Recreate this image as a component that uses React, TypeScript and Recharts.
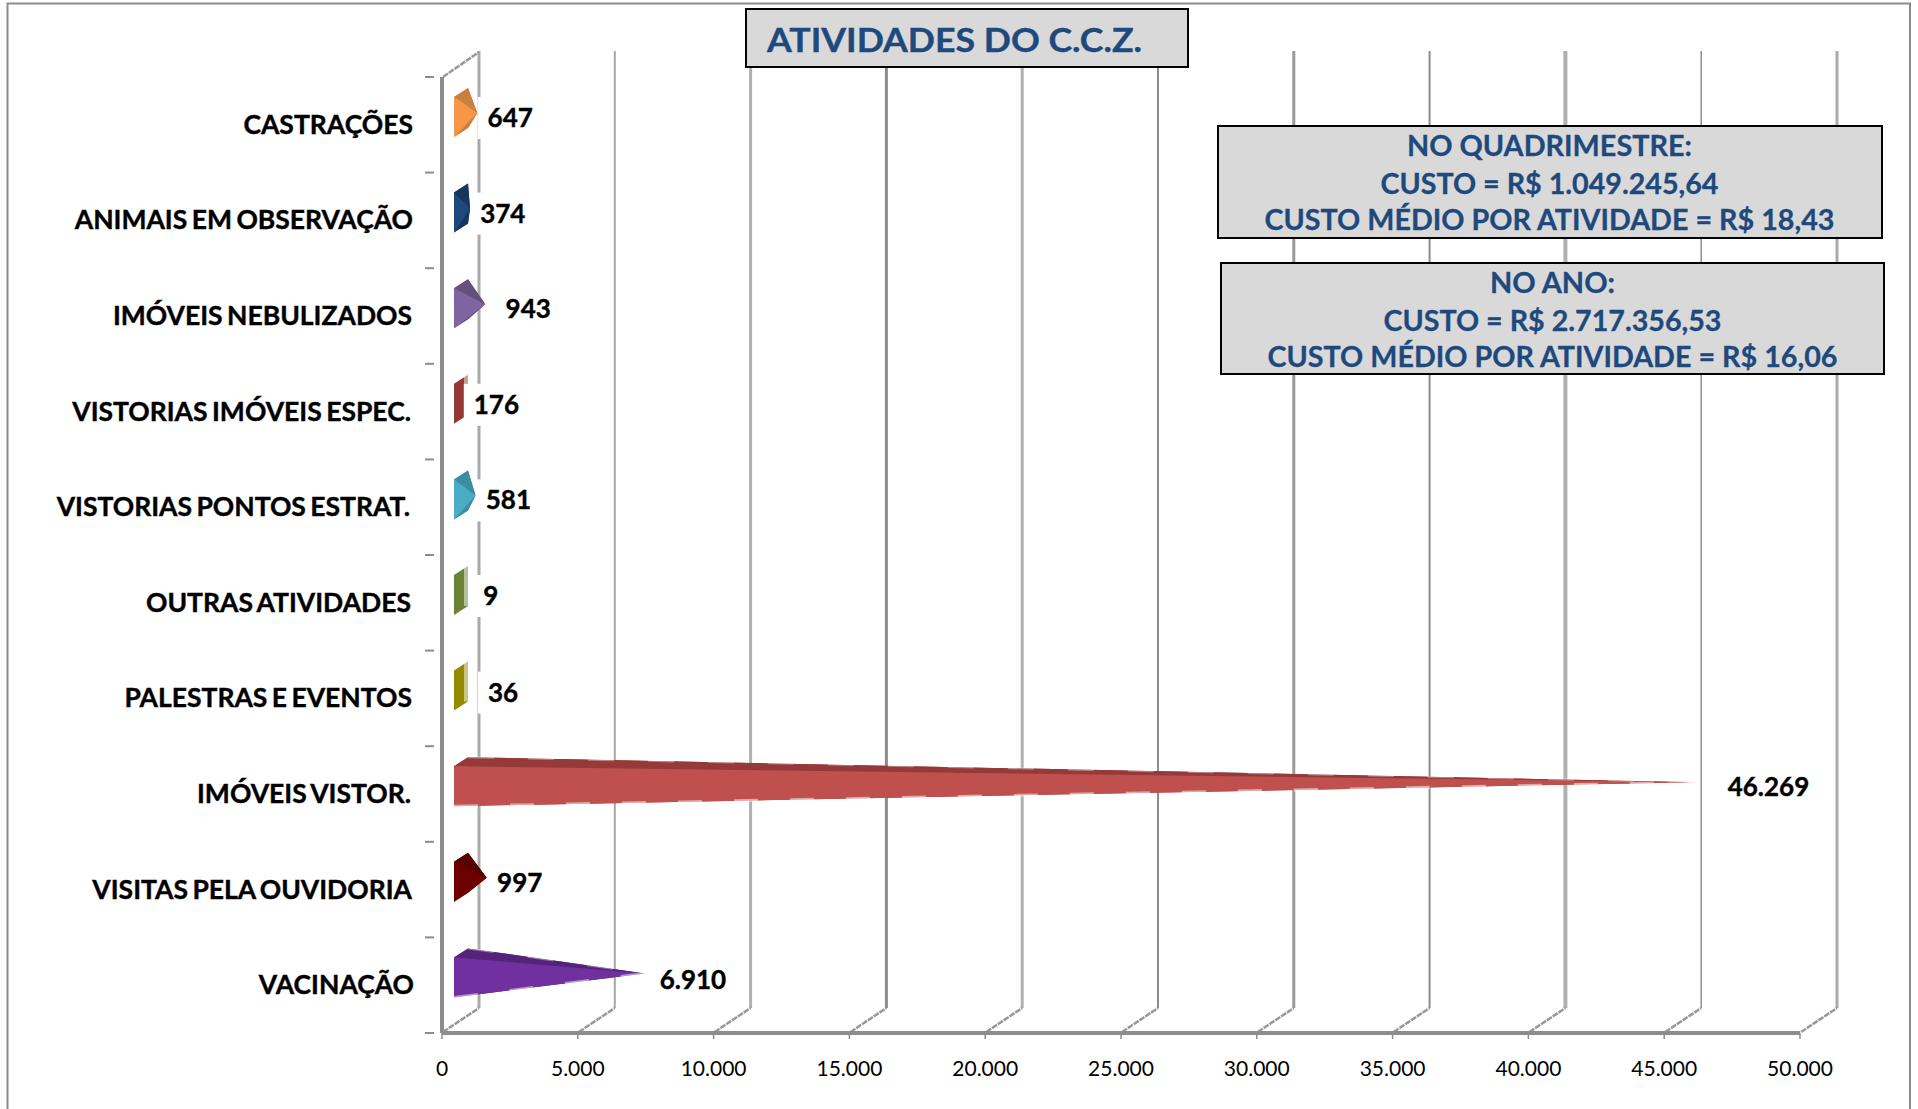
import { BarChart, Bar, XAxis, YAxis, CartesianGrid, LabelList } from "recharts"

const categories = [
  "CASTRAÇÕES",
  "ANIMAIS EM OBSERVAÇÃO",
  "IMÓVEIS NEBULIZADOS",
  "VISTORIAS IMÓVEIS ESPEC.",
  "VISTORIAS PONTOS ESTRAT.",
  "OUTRAS ATIVIDADES",
  "PALESTRAS E EVENTOS",
  "IMÓVEIS VISTOR.",
  "VISITAS PELA OUVIDORIA",
  "VACINAÇÃO",
]
const values = [647, 374, 943, 176, 581, 9, 36, 46269, 997, 6910]
const valueTicks = [0, 5000, 10000, 15000, 20000, 25000, 30000, 35000, 40000, 45000, 50000]

const mainColors = ["#f79646", "#1f497d", "#8064a2", "#953735", "#4bacc6", "#6b8136", "#948a00", "#c0504d", "#6f0000", "#7030a0"]
const darkColors = ["#c9803f", "#17365d", "#64507f", "#7a2c2b", "#3c8ca3", "#566a2c", "#7d7500", "#953a38", "#560000", "#55247a"]
const labelNudge = [0, 0, 10, -1, 0, 13, 17, 1, 0, 2]
const labelLift = [8, 8, 8, 8, 8, 8, 7, 8, 8, 6]
const edgeNudge = [0, 0, -1, -2, -3, -2, -1, -2, -1, 1]
const gridWidths = [3, 2, 3, 3, 3, 2, 3, 2, 4, 1.5, 3]
const gridColors = ["#aaaaaa", "#a6a6a6", "#b0b0b0", "#8c8c8c", "#b0b0b0", "#8c8c8c", "#999999", "#8c8c8c", "#b0b0b0", "#8c8c8c", "#aaaaaa"]

const data = categories.map((name, i) => ({ name, value: values[i] }))

const FONT = "Lato, sans-serif"
const AXIS_GRAY = "#8c8c8c"
const PLOT_TOP = 77
const PLOT_BOTTOM = 1033
const BAND = (PLOT_BOTTOM - PLOT_TOP) / categories.length
const DEPTH_X = 37
const DEPTH_Y = 25

const fmt = (v: number) => String(v).replace(/\B(?=(\d{3})+$)/g, ".")

// pyramid drawn from the rectangle the bar scale hands over
function Pyramid(props: any) {
  const { x, y, width, height, index } = props
  const c = y + height / 2
  const main = mainColors[index]
  const dark = darkColors[index]
  const bx = x + 12
  const ft = [bx, c - 28]
  const fb = [bx, c + 12]
  const bt = [bx + 14, c - 37]
  const bb = [bx + 14, c + 3]
  const apex = [bx + 6 + width * 0.985, c - 12]
  const pts = (...p: number[][]) => p.map((a) => a.join(",")).join(" ")
  const flat = apex[0] < bt[0]
  return (
    <g>
      <polygon points={pts(ft, bt, bb, fb)} fill={main} />
      {flat && <line x1={bt[0] - 2} y1={bt[1]} x2={bb[0] - 2} y2={bb[1]} stroke="#fff" strokeOpacity={0.5} strokeWidth={4} />}
      {!flat && <polygon points={pts(bt, apex, bb)} fill={dark} />}
      {!flat && <polygon points={pts(fb, bb, apex)} fill={dark} />}
      {!flat && <polygon points={pts(ft, bt, apex)} fill={dark} />}
      {!flat && <polygon points={pts(ft, fb, apex)} fill={main} />}
      {width > 100 && <line x1={fb[0]} y1={fb[1]} x2={apex[0]} y2={apex[1]} stroke="#fff" strokeOpacity={0.5} strokeWidth={3} strokeDasharray="24 32" />}
      {width > 100 && <line x1={bt[0]} y1={bt[1]} x2={apex[0]} y2={apex[1]} stroke="#fff" strokeOpacity={0.35} strokeWidth={2} strokeDasharray="26 34" />}
    </g>
  )
}

function ValueLabel(props: any) {
  const { x, y, width, height, value, index } = props
  const c = y + height / 2 - labelLift[index]
  const lx = x + width + 28 + labelNudge[index]
  const w = fmt(value).length * 14.6
  return (
    <g>
      <rect x={lx - 10} y={c - 20} width={w + 20} height={42} fill="#fff" />
      <text x={lx} y={c} dominantBaseline="central" fontFamily={FONT} fontWeight={700} fontSize={26} fill="#000" stroke="#000" strokeWidth={0.4}>
        {fmt(value)}
      </text>
    </g>
  )
}

function CategoryTick(props: any) {
  const { x, y, payload, index } = props
  const top = y - BAND / 2
  return (
    <g>
      <line x1={x - 9} y1={top} x2={x} y2={top} stroke={AXIS_GRAY} strokeWidth={2} />
      {index === categories.length - 1 && <line x1={x - 9} y1={y + BAND / 2} x2={x} y2={y + BAND / 2} stroke={AXIS_GRAY} strokeWidth={2} />}
      <text x={413 + edgeNudge[index]} y={y - 1} dominantBaseline="central" textAnchor="end" fontFamily={FONT} fontWeight={700} fontSize={26.5} fill="#000" stroke="#000" strokeWidth={0.4} style={{ wordSpacing: -2 }}>
        {payload.value}
      </text>
    </g>
  )
}

function BackLine(props: any) {
  const { x1, y1, y2, index } = props
  const i = index ?? 0
  return (
    <g key={`back-${x1}`}>
      <line x1={x1 + DEPTH_X} y1={y1 - DEPTH_Y - 1} x2={x1 + DEPTH_X} y2={y2 - DEPTH_Y} stroke={gridColors[i]} strokeWidth={gridWidths[i]} />
      <line x1={x1 + 1} y1={y2 - 1} x2={x1 + DEPTH_X} y2={y2 - DEPTH_Y} stroke="#999999" strokeWidth={2.5} strokeDasharray="6 1" />
      {i === 0 && <line x1={x1 + 1} y1={y1} x2={x1 + DEPTH_X} y2={y1 - DEPTH_Y} stroke="#999999" strokeWidth={2.5} strokeDasharray="6 1" />}
    </g>
  )
}

function InfoBox({ x, y, width, height, lines, cx }: any) {
  const ys = [y + 19, y + 57, y + 93]
  const lens = [[285, 338, 570], [125, 338, 570]][lines[0] === "NO ANO:" ? 1 : 0]
  return (
    <g>
      <rect x={x} y={y} width={width} height={height} fill="#d9d9d9" stroke="#000" strokeWidth={2} />
      {lines.map((t: string, i: number) => (
        <text key={t} x={cx} y={ys[i]} textAnchor="middle" dominantBaseline="central" fontFamily={FONT} fontWeight={700} fontSize={28} fill="#1f497d" stroke="#1f497d" strokeWidth={0.3} textLength={lens[i]} lengthAdjust="spacingAndGlyphs">
          {t}
        </text>
      ))}
    </g>
  )
}

export default function App() {
  return (
    <div style={{ position: "absolute", left: 0, top: 0, width: 1918, height: 1109, overflow: "hidden", background: "#fff" }}>
      <BarChart
        width={1918}
        height={1109}
        layout="vertical"
        data={data}
        margin={{ top: PLOT_TOP, right: 118, bottom: 0, left: 0 }}
      >
        <CartesianGrid horizontal={false} vertical={BackLine as any} />
        <XAxis
          type="number"
          domain={[0, 50000]}
          ticks={valueTicks}
          interval={0}
          height={1109 - PLOT_BOTTOM}
          tickFormatter={fmt}
          tick={{ fill: "#000", fontSize: 21, fontFamily: FONT }}
          tickSize={6}
          tickMargin={22}
          stroke={AXIS_GRAY}
          axisLine={{ stroke: AXIS_GRAY, strokeWidth: 4 }}
          tickLine={{ stroke: AXIS_GRAY, strokeWidth: 1.5 }}
        />
        <YAxis
          type="category"
          dataKey="name"
          width={442}
          interval={0}
          tickLine={false}
          tick={CategoryTick as any}
          axisLine={{ stroke: AXIS_GRAY, strokeWidth: 4 }}
        />
        <Bar dataKey="value" barSize={40} shape={Pyramid as any} isAnimationActive={false}>
          <LabelList dataKey="value" content={ValueLabel as any} />
        </Bar>
      </BarChart>
      <svg width={1918} height={1109} style={{ position: "absolute", left: 0, top: 0, pointerEvents: "none" }}>
        <polyline points="7.5,1109 7.5,3.5 1910,3.5 1910,1109" fill="none" stroke={AXIS_GRAY} strokeWidth={2} />
        <rect x={746} y={9} width={442} height={58} fill="#d9d9d9" stroke="#000" strokeWidth={2} />
        <text x={954.5} y={39} textAnchor="middle" dominantBaseline="central" fontFamily={FONT} fontWeight={700} fontSize={33} fill="#1f497d" stroke="#1f497d" strokeWidth={0.4} textLength={375} lengthAdjust="spacingAndGlyphs">
          ATIVIDADES DO C.C.Z.
        </text>
        <InfoBox x={1218} y={126} width={664} height={112} cx={1549.5} lines={["NO QUADRIMESTRE:", "CUSTO = R$ 1.049.245,64", "CUSTO MÉDIO POR ATIVIDADE = R$ 18,43"]} />
        <InfoBox x={1221} y={263} width={663} height={111} cx={1552.5} lines={["NO ANO:", "CUSTO = R$ 2.717.356,53", "CUSTO MÉDIO POR ATIVIDADE = R$ 16,06"]} />
      </svg>
    </div>
  )
}
